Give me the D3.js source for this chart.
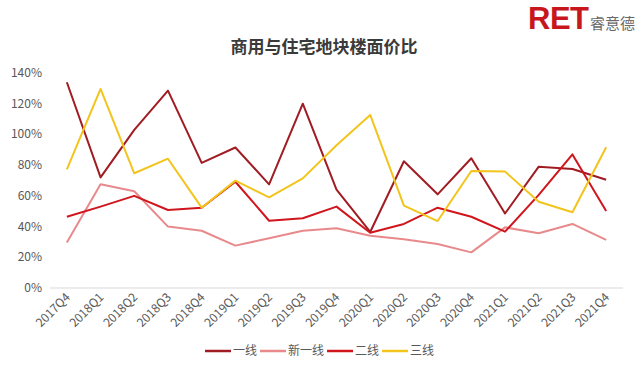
<!DOCTYPE html>
<html lang="zh">
<head>
<meta charset="utf-8">
<title>商用与住宅地块楼面价比</title>
<script src="https://d3js.org/d3.v7.min.js"></script>
<style>
  body { margin: 0; background: #fff; }
  svg text { font-family: "Noto Sans CJK SC", "Noto Sans", sans-serif; }
</style>
</head>
<body>
<svg id="chart" width="640" height="371"></svg>
<script>
const quarters = ["2017Q4","2018Q1","2018Q2","2018Q3","2018Q4","2019Q1","2019Q2","2019Q3","2019Q4",
  "2020Q1","2020Q2","2020Q3","2020Q4","2021Q1","2021Q2","2021Q3","2021Q4"];
const tier1    = [134, 72, 103, 128.5, 81.5, 91.5, 67.5, 120, 64, 36.5, 82.5, 61, 84.5, 48.5, 79, 77.5, 70.5];
const newTier1 = [29.7, 67.5, 63, 40, 37.3, 27.6, 32.4, 37.3, 38.9, 34, 31.7, 28.7, 23.2, 39.5, 35.6, 41.7, 31.3];
const tier2    = [46.4, 53, 60, 50.8, 52.3, 69.2, 43.8, 45.4, 53, 36, 41.7, 52.3, 46.4, 36.7, 60.6, 87, 50.1];
const tier3    = [77.3, 129.6, 74.7, 84.2, 52.3, 69.9, 59, 71.4, 93, 112.7, 53.6, 43.6, 76.2, 75.8, 56.2, 49.3, 91.6];
const yTicks = [0, 20, 40, 60, 80, 100, 120, 140];

const series = [
  { name: "一线", values: tier1, color: "#a01c22" },
  { name: "新一线", values: newTier1, color: "#e8898c" },
  { name: "二线", values: tier2, color: "#d0151d" },
  { name: "三线", values: tier3, color: "#f2c41c" }
];

const svg = d3.select("#chart");
const margin = { left: 50, right: 17, top: 73, bottom: 83 };
const width = 640, height = 371;

const x = d3.scaleBand().domain(quarters).range([margin.left, width - margin.right]);
const y = d3.scaleLinear().domain([0, 140]).range([height - margin.bottom, margin.top]);

// title
svg.append("text")
  .attr("x", 324).attr("y", 53)
  .attr("text-anchor", "middle")
  .attr("font-size", 17).attr("font-weight", "bold")
  .attr("fill", "#3a3a3a")
  .text("商用与住宅地块楼面价比");

// logo (inline style so the css font rule doesn't win)
svg.append("text")
  .attr("x", 528).attr("y", 29)
  .style("font-family", "'Liberation Sans', Arial, sans-serif")
  .attr("font-size", 31).attr("font-weight", "bold")
  .attr("fill", "#c8161d")
  .attr("letter-spacing", -0.5)
  .text("RET");
svg.append("text")
  .attr("x", 590).attr("y", 29)
  .attr("font-size", 15)
  .attr("fill", "#6a6a6a")
  .text("睿意德");

// y axis labels
svg.append("g")
  .selectAll("text")
  .data(yTicks)
  .join("text")
  .attr("x", 42).attr("y", d => y(d) + 4)
  .attr("text-anchor", "end")
  .attr("font-size", 12).attr("fill", "#595959")
  .text(d => d + "%");

// baseline
svg.append("line")
  .attr("x1", margin.left).attr("x2", width - margin.right)
  .attr("y1", y(0)).attr("y2", y(0))
  .attr("stroke", "#d9d9d9").attr("stroke-width", 1);

// x axis labels
svg.append("g")
  .selectAll("text")
  .data(quarters)
  .join("text")
  .attr("transform", d => `translate(${x(d) + x.bandwidth() / 2 + 4},${y(0) + 10}) rotate(-45)`)
  .attr("text-anchor", "end")
  .attr("font-size", 12).attr("fill", "#595959")
  .text(d => d);

// lines
const line = d3.line()
  .x((d, i) => x(quarters[i]) + x.bandwidth() / 2)
  .y(d => y(d));

svg.append("g")
  .selectAll("path")
  .data(series)
  .join("path")
  .attr("d", d => line(d.values))
  .attr("fill", "none")
  .attr("stroke", d => d.color)
  .attr("stroke-width", 2)
  .attr("stroke-linejoin", "round");

// legend
const legend = svg.append("g");
let lx = 205;
series.forEach(s => {
  legend.append("line")
    .attr("x1", lx).attr("x2", lx + 26)
    .attr("y1", 351).attr("y2", 351)
    .attr("stroke", s.color).attr("stroke-width", 2.5);
  const t = legend.append("text")
    .attr("x", lx + 28).attr("y", 355)
    .attr("font-size", 12).attr("fill", "#595959")
    .text(s.name);
  lx += 28 + t.node().getComputedTextLength() + 3;
});
</script>
</body>
</html>
